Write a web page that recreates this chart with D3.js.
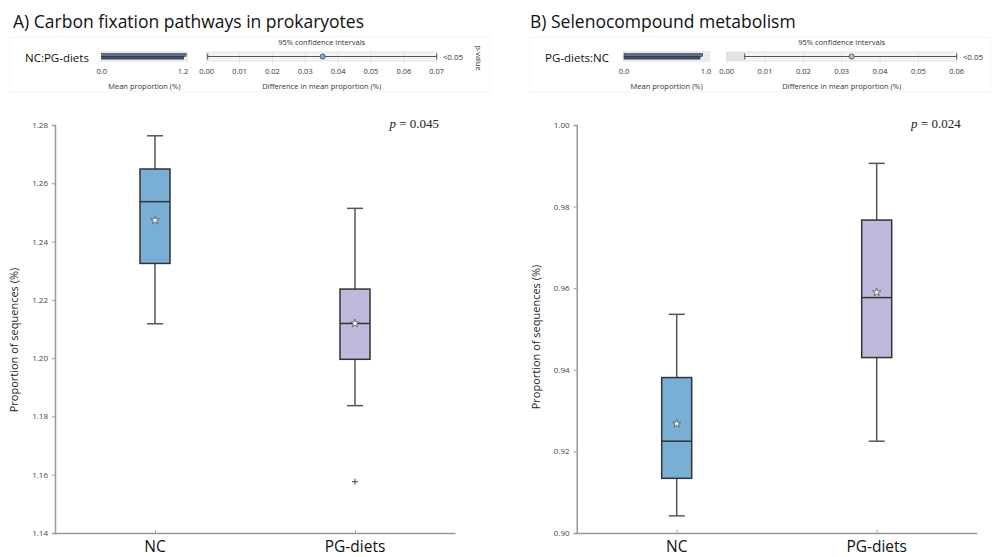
<!DOCTYPE html>
<html>
<head>
<meta charset="utf-8">
<script src="https://cdn.jsdelivr.net/npm/d3@7"></script>
<style>
body{margin:0;background:#fff;}
svg{display:block;}
</style>
</head>
<body>
<svg id="chart" width="992" height="557"></svg>
<script>
// ---------- DATA ----------
const panelTitles = ["A) Carbon fixation pathways in prokaryotes", "B) Selenocompound metabolism"];
const categories = ["NC", "PG-diets"];
// box stats: [lowerWhisker, q1, median, q3, upperWhisker, mean]
const boxA_NC = [1.2118, 1.2325, 1.2537, 1.2649, 1.2763, 1.2473];
const boxA_PG = [1.1837, 1.1996, 1.2119, 1.2237, 1.2514, 1.2119];
const outliersA_PG = [1.1576];
const boxB_NC = [0.9042, 0.9134, 0.9225, 0.9381, 0.9536, 0.9268];
const boxB_PG = [0.9225, 0.9430, 0.9577, 0.9767, 0.9906, 0.9590];
const yTicksA = [1.14, 1.16, 1.18, 1.20, 1.22, 1.24, 1.26, 1.28];
const yTicksB = [0.90, 0.92, 0.94, 0.96, 0.98, 1.00];
const pTexts = ["0.045", "0.024"];
// header (extended error bar) data
const compLabels = ["NC:PG-diets", "PG-diets:NC"];
const meanPropA = [1.247, 1.212];
const meanPropB = [0.959, 0.927];
const meanTicksA = [0.0, 1.2];
const meanTicksB = [0.0, 1.0];
const diffA = 0.0353, ciA = [0.0003, 0.0700];
const diffB = 0.0326, ciB = [0.0047, 0.0600];
const diffTicksA = [0.00, 0.01, 0.02, 0.03, 0.04, 0.05, 0.06, 0.07];
const diffTicksB = [0.00, 0.01, 0.02, 0.03, 0.04, 0.05, 0.06];
const pValueLabel = "<0.05";

// ---------- DRAW ----------
const svg = d3.select("#chart");
const font = "'Open Sans', 'Noto Sans', sans-serif";
const colors = {"NC": "#7aafd5", "PG-diets": "#bdbadb"};

function header(cfg) {
  const g = svg.append("g");
  g.append("rect").attr("x", cfg.frameX).attr("y", 37).attr("width", cfg.frameW).attr("height", 55)
    .attr("fill", "none").attr("stroke", "#f5f5f5");
  g.append("text").attr("x", cfg.titleX).attr("y", 28).text(cfg.title)
    .attr("font-family", font).attr("font-size", 17.5).attr("fill", "#111");
  g.append("text").attr("x", cfg.labelX).attr("y", 62).text(cfg.comp)
    .attr("font-family", font).attr("font-size", 11.5).attr("fill", "#111");

  // mean proportion bars
  const xm = d3.scaleLinear().domain(cfg.meanDomain).range(cfg.meanRange);
  g.append("rect").attr("x", xm.range()[0] - 1).attr("y", 51).attr("width", xm.range()[1] - xm.range()[0] + 2)
    .attr("height", 11).attr("fill", "#ebebeb");
  const bh = 2.8;
  cfg.means.forEach((v, i) => {
    g.append("rect").attr("x", xm(0)).attr("y", 53.5 + i * bh).attr("width", xm(v) - xm(0)).attr("height", bh)
      .attr("fill", i === 0 ? "#5d7390" : "#3f5068").attr("stroke", "#222").attr("stroke-width", 0.5);
  });
  cfg.meanTicks.forEach(t => {
    g.append("text").attr("x", xm(t)).attr("y", 74).attr("text-anchor", "middle").text(d3.format(".1f")(t))
      .attr("font-family", font).attr("font-size", 7.5).attr("fill", "#333");
  });
  g.append("text").attr("x", (xm.range()[0] + xm.range()[1]) / 2).attr("y", 89).attr("text-anchor", "middle")
    .text("Mean proportion (%)").attr("font-family", font).attr("font-size", 7.5).attr("fill", "#333");

  // confidence interval plot
  const xd = d3.scaleLinear().domain(cfg.diffDomain).range(cfg.diffRange);
  g.append("rect").attr("x", xd.range()[0]).attr("y", 52).attr("width", xd.range()[1] - xd.range()[0])
    .attr("height", 9).attr("fill", "#f4f4f4").attr("stroke", "#d8d8d8").attr("stroke-width", 0.6);
  if (cfg.shadeLeft) {
    g.append("rect").attr("x", xd(0)).attr("y", 52).attr("width", xd(cfg.ci[0]) - xd(0)).attr("height", 9)
      .attr("fill", "#e4e4e4");
  }
  cfg.diffTicks.forEach(t => {
    g.append("line").attr("x1", xd(t)).attr("x2", xd(t)).attr("y1", 52).attr("y2", 64)
      .attr("stroke", "#d8d8d8").attr("stroke-width", 0.6);
    g.append("text").attr("x", xd(t)).attr("y", 74).attr("text-anchor", "middle").text(d3.format(".2f")(t))
      .attr("font-family", font).attr("font-size", 7.5).attr("fill", "#333");
  });
  const cy = 56.5;
  g.append("line").attr("x1", xd(cfg.ci[0])).attr("x2", xd(cfg.ci[1])).attr("y1", cy).attr("y2", cy)
    .attr("stroke", "#555").attr("stroke-width", 1);
  cfg.ci.forEach(c => g.append("line").attr("x1", xd(c)).attr("x2", xd(c)).attr("y1", cy - 3).attr("y2", cy + 3)
    .attr("stroke", "#555").attr("stroke-width", 1));
  g.append("circle").attr("cx", xd(cfg.diff)).attr("cy", cy).attr("r", 2.6)
    .attr("fill", cfg.dotFill).attr("stroke", "#333").attr("stroke-width", 0.7);
  const mid = (xd.range()[0] + xd.range()[1]) / 2;
  g.append("text").attr("x", mid).attr("y", 45).attr("text-anchor", "middle").text("95% confidence intervals")
    .attr("font-family", font).attr("font-size", 7.5).attr("fill", "#333");
  g.append("text").attr("x", mid).attr("y", 89).attr("text-anchor", "middle").text("Difference in mean proportion (%)")
    .attr("font-family", font).attr("font-size", 7.5).attr("fill", "#333");
  g.append("text").attr("x", xd.range()[1] + 6).attr("y", 60).text(pValueLabel)
    .attr("font-family", font).attr("font-size", 8).attr("fill", "#333");
  if (cfg.showPLabel) {
    g.append("text").attr("transform", `translate(${xd.range()[1] + 39},58) rotate(90)`).attr("text-anchor", "middle")
      .text("p-value").attr("font-family", font).attr("font-size", 7.5).attr("fill", "#333");
  }
}

header({frameX: 10, frameW: 480, titleX: 13, title: panelTitles[0], labelX: 25, comp: compLabels[0],
  meanDomain: [0, 1.26], meanRange: [101.7, 187], means: meanPropA, meanTicks: meanTicksA,
  diffDomain: [0, 0.07], diffRange: [206.7, 436.7], diffTicks: diffTicksA, ci: ciA, diff: diffA,
  dotFill: "#7aafd5", showPLabel: true, shadeLeft: false});
header({frameX: 530, frameW: 461, titleX: 530, title: panelTitles[1], labelX: 545, comp: compLabels[1],
  meanDomain: [0, 1.04], meanRange: [624, 709.3], means: meanPropB, meanTicks: meanTicksB,
  diffDomain: [0, 0.06], diffRange: [726.7, 956.7], diffTicks: diffTicksB, ci: ciB, diff: diffB,
  dotFill: "#bdbadb", showPLabel: false, shadeLeft: true});

function boxPanel(cfg) {
  const g = svg.append("g");
  const y = d3.scaleLinear().domain(cfg.yDomain).range([533, 125]);
  const x = d3.scalePoint().domain(categories).range([cfg.x0, cfg.x0 + 400]).padding(0.5);
  const yAxis = g.append("g").attr("transform", `translate(${cfg.x0},0)`)
    .call(d3.axisLeft(y).tickValues(cfg.ticks).tickFormat(d3.format(".2f")).tickSize(3).tickPadding(4));
  yAxis.selectAll("text").attr("font-family", font).attr("font-size", 8).attr("fill", "#444");
  yAxis.selectAll("line").attr("stroke", "#999");
  yAxis.select(".domain").attr("stroke", "#999").attr("stroke-width", 1.5);
  const xAxis = g.append("g").attr("transform", `translate(0,533)`)
    .call(d3.axisBottom(x).tickSize(-3).tickSizeOuter(0).tickFormat(""));
  xAxis.selectAll("line").attr("stroke", "#aaa");
  xAxis.select(".domain").attr("stroke", "#999").attr("stroke-width", 1.5);
  categories.forEach(c => {
    g.append("text").attr("x", x(c)).attr("y", 552).attr("text-anchor", "middle").text(c)
      .attr("font-family", font).attr("font-size", 15.5).attr("fill", "#111");
  });
  g.append("text").attr("transform", `translate(${cfg.x0 - 37},${cfg.labelY}) rotate(-90)`).attr("text-anchor", "middle")
    .text("Proportion of sequences (%)").attr("font-family", font).attr("font-size", 11).attr("fill", "#222");

  const bw = 30;
  categories.forEach((c, i) => {
    const s = cfg.boxes[i];
    const cx = x(c);
    const wc = "#555";
    g.append("line").attr("x1", cx).attr("x2", cx).attr("y1", y(s[4])).attr("y2", y(s[3])).attr("stroke", wc).attr("stroke-width", 1.5);
    g.append("line").attr("x1", cx).attr("x2", cx).attr("y1", y(s[1])).attr("y2", y(s[0])).attr("stroke", wc).attr("stroke-width", 1.5);
    [s[0], s[4]].forEach(v => g.append("line").attr("x1", cx - 8).attr("x2", cx + 8).attr("y1", y(v)).attr("y2", y(v))
      .attr("stroke", wc).attr("stroke-width", 1.5));
    g.append("rect").attr("x", cx - bw / 2).attr("y", y(s[3])).attr("width", bw).attr("height", y(s[1]) - y(s[3]))
      .attr("fill", colors[c]).attr("stroke", "#333").attr("stroke-width", 1.5);
    g.append("line").attr("x1", cx - bw / 2).attr("x2", cx + bw / 2).attr("y1", y(s[2])).attr("y2", y(s[2]))
      .attr("stroke", "#333").attr("stroke-width", 1.5);
    g.append("path").attr("d", d3.symbol(d3.symbolStar, 22)()).attr("transform", `translate(${cx},${y(s[5])})`)
      .attr("fill", "#fff").attr("stroke", "#555").attr("stroke-width", 0.8);
    (cfg.outliers[i] || []).forEach(o => {
      g.append("line").attr("x1", cx - 3).attr("x2", cx + 3).attr("y1", y(o)).attr("y2", y(o)).attr("stroke", "#444");
      g.append("line").attr("x1", cx).attr("x2", cx).attr("y1", y(o) - 3).attr("y2", y(o) + 3).attr("stroke", "#444");
    });
  });
  const pt = g.append("text").attr("x", cfg.x0 + 384).attr("y", 128).attr("text-anchor", "end")
    .attr("font-family", "'Liberation Serif', serif").attr("font-size", 13).attr("fill", "#222");
  pt.append("tspan").attr("font-style", "italic").text("p");
  pt.append("tspan").text(" = " + cfg.p);
}

boxPanel({x0: 55, yDomain: [1.14, 1.28], ticks: yTicksA, boxes: [boxA_NC, boxA_PG], outliers: [[], outliersA_PG], p: pTexts[0], labelY: 340});
boxPanel({x0: 576.7, yDomain: [0.90, 1.00], ticks: yTicksB, boxes: [boxB_NC, boxB_PG], outliers: [[], []], p: pTexts[1], labelY: 337});
</script>
</body>
</html>
